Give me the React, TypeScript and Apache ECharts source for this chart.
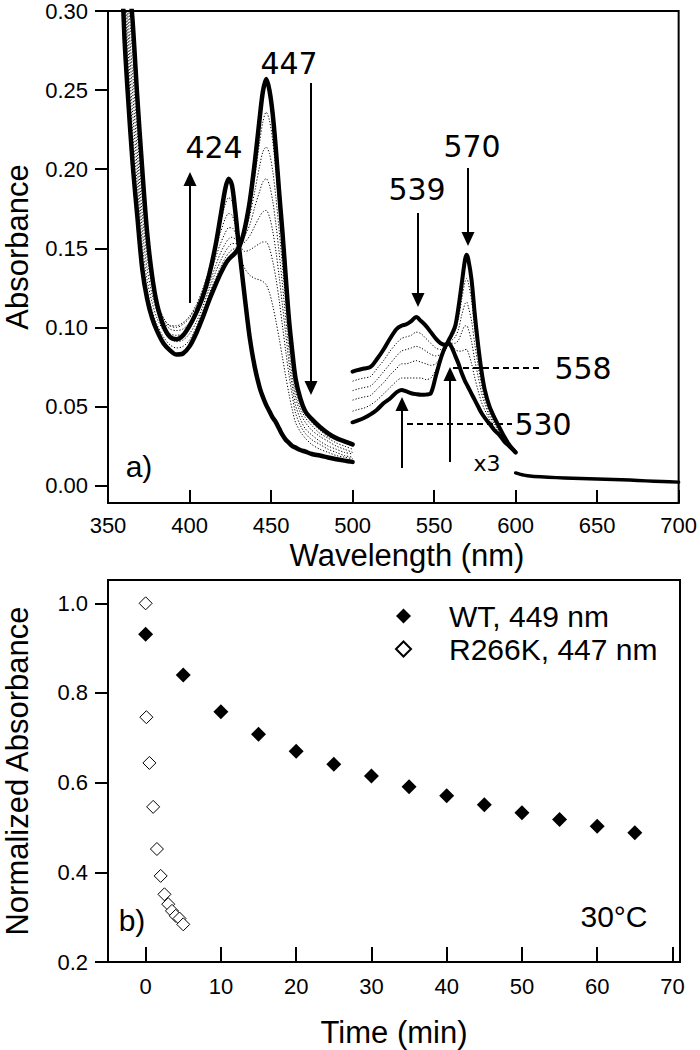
import React, { useEffect, useRef } from "react";
import * as echarts from "echarts";

// ---------- Panel a) : spectra ----------
// 355-500 nm region (Soret)
const wl1 = [356, 358, 360, 362, 365, 368, 371, 374, 377, 380, 384, 388, 392, 396, 400, 404, 408, 412, 416, 419, 422, 424, 426, 428, 430, 432, 434, 437, 440, 443, 445, 447, 449, 451, 453, 455, 457, 459, 461, 463, 465, 468, 471, 475, 480, 485, 490, 495, 500];
const initial1 = [0.40, 0.34, 0.285, 0.25, 0.205, 0.17, 0.137, 0.118, 0.106, 0.098, 0.090, 0.0855, 0.0828, 0.0835, 0.088, 0.096, 0.106, 0.117, 0.127, 0.134, 0.140, 0.143, 0.145, 0.147, 0.150, 0.155, 0.163, 0.180, 0.204, 0.232, 0.249, 0.257, 0.250, 0.235, 0.212, 0.185, 0.160, 0.132, 0.105, 0.085, 0.068, 0.055, 0.047, 0.042, 0.037, 0.033, 0.030, 0.028, 0.026];
const mid1a = [0.41, 0.35, 0.295, 0.26, 0.215, 0.18, 0.145, 0.124, 0.111, 0.102, 0.094, 0.089, 0.087, 0.088, 0.092, 0.100, 0.110, 0.121, 0.131, 0.138, 0.144, 0.147, 0.149, 0.150, 0.152, 0.156, 0.162, 0.176, 0.195, 0.217, 0.230, 0.236, 0.231, 0.218, 0.198, 0.174, 0.150, 0.124, 0.099, 0.080, 0.064, 0.052, 0.045, 0.040, 0.035, 0.031, 0.029, 0.027, 0.025];
const mid1b = [0.42, 0.36, 0.305, 0.27, 0.225, 0.19, 0.153, 0.130, 0.116, 0.106, 0.098, 0.093, 0.091, 0.092, 0.096, 0.103, 0.113, 0.124, 0.135, 0.142, 0.148, 0.151, 0.153, 0.153, 0.153, 0.156, 0.160, 0.171, 0.186, 0.202, 0.211, 0.214, 0.210, 0.199, 0.182, 0.161, 0.139, 0.116, 0.093, 0.075, 0.060, 0.049, 0.043, 0.038, 0.033, 0.030, 0.027, 0.025, 0.023];
const mid1c = [0.43, 0.37, 0.315, 0.28, 0.237, 0.20, 0.162, 0.137, 0.121, 0.110, 0.101, 0.096, 0.095, 0.096, 0.100, 0.107, 0.116, 0.127, 0.139, 0.147, 0.153, 0.156, 0.157, 0.156, 0.154, 0.155, 0.158, 0.165, 0.176, 0.186, 0.192, 0.194, 0.190, 0.180, 0.165, 0.147, 0.127, 0.106, 0.086, 0.069, 0.056, 0.046, 0.040, 0.035, 0.031, 0.028, 0.025, 0.023, 0.021];
const mid1d = [0.44, 0.38, 0.327, 0.29, 0.25, 0.21, 0.172, 0.144, 0.126, 0.114, 0.104, 0.099, 0.098, 0.099, 0.103, 0.110, 0.119, 0.131, 0.144, 0.153, 0.160, 0.163, 0.163, 0.160, 0.155, 0.153, 0.154, 0.158, 0.164, 0.170, 0.173, 0.174, 0.170, 0.161, 0.148, 0.132, 0.114, 0.096, 0.078, 0.063, 0.051, 0.042, 0.036, 0.032, 0.028, 0.025, 0.023, 0.021, 0.020];
const mid1e = [0.45, 0.39, 0.34, 0.30, 0.262, 0.222, 0.182, 0.150, 0.129, 0.116, 0.106, 0.101, 0.100, 0.102, 0.106, 0.113, 0.122, 0.135, 0.150, 0.160, 0.169, 0.172, 0.171, 0.165, 0.156, 0.150, 0.148, 0.149, 0.151, 0.153, 0.154, 0.154, 0.150, 0.142, 0.131, 0.117, 0.101, 0.085, 0.070, 0.057, 0.046, 0.038, 0.033, 0.029, 0.026, 0.023, 0.021, 0.019, 0.018];
const mid1f = [0.46, 0.40, 0.352, 0.31, 0.275, 0.233, 0.19, 0.155, 0.131, 0.117, 0.106, 0.101, 0.101, 0.103, 0.107, 0.114, 0.124, 0.137, 0.153, 0.166, 0.178, 0.182, 0.180, 0.170, 0.155, 0.143, 0.137, 0.133, 0.131, 0.130, 0.129, 0.127, 0.122, 0.114, 0.104, 0.093, 0.081, 0.069, 0.058, 0.048, 0.040, 0.034, 0.030, 0.026, 0.023, 0.021, 0.019, 0.018, 0.017];
const final1 = [0.48, 0.42, 0.37, 0.33, 0.295, 0.245, 0.20, 0.16, 0.133, 0.115, 0.101, 0.094, 0.0925, 0.095, 0.101, 0.109, 0.119, 0.133, 0.152, 0.170, 0.188, 0.194, 0.190, 0.174, 0.154, 0.136, 0.118, 0.093, 0.075, 0.062, 0.056, 0.051, 0.047, 0.043, 0.040, 0.036, 0.032, 0.029, 0.027, 0.025, 0.024, 0.0225, 0.0215, 0.020, 0.019, 0.0178, 0.0167, 0.0158, 0.015];

// 500-600 nm region (shown x3)
const wl2 = [500, 503, 507, 511, 515, 519, 523, 527, 530, 533, 536, 539, 542, 545, 548, 551, 554, 557, 559, 561, 563, 565, 567, 569, 570, 571, 573, 575, 577, 579, 581, 584, 587, 590, 593, 596, 600];
const initial2 = [0.072, 0.073, 0.074, 0.075, 0.080, 0.086, 0.093, 0.099, 0.101, 0.102, 0.104, 0.1065, 0.104, 0.101, 0.097, 0.093, 0.090, 0.089, 0.092, 0.096, 0.101, 0.113, 0.128, 0.143, 0.146, 0.143, 0.130, 0.108, 0.089, 0.073, 0.061, 0.050, 0.043, 0.037, 0.031, 0.026, 0.021];
const mid2a = [0.066, 0.067, 0.068, 0.069, 0.074, 0.079, 0.085, 0.090, 0.093, 0.094, 0.095, 0.097, 0.096, 0.093, 0.090, 0.087, 0.086, 0.088, 0.091, 0.094, 0.098, 0.106, 0.118, 0.129, 0.131, 0.128, 0.117, 0.098, 0.082, 0.068, 0.058, 0.048, 0.041, 0.036, 0.030, 0.026, 0.021];
const mid2b = [0.060, 0.061, 0.062, 0.063, 0.067, 0.072, 0.077, 0.082, 0.085, 0.086, 0.087, 0.088, 0.087, 0.085, 0.083, 0.082, 0.083, 0.087, 0.090, 0.092, 0.094, 0.099, 0.108, 0.115, 0.116, 0.113, 0.104, 0.089, 0.076, 0.064, 0.055, 0.046, 0.040, 0.035, 0.030, 0.025, 0.021];
const mid2c = [0.054, 0.055, 0.056, 0.057, 0.061, 0.065, 0.070, 0.074, 0.077, 0.077, 0.078, 0.079, 0.078, 0.077, 0.076, 0.077, 0.081, 0.086, 0.090, 0.090, 0.090, 0.092, 0.097, 0.101, 0.101, 0.099, 0.091, 0.079, 0.069, 0.059, 0.052, 0.044, 0.039, 0.034, 0.029, 0.025, 0.021];
const mid2d = [0.047, 0.048, 0.049, 0.051, 0.054, 0.058, 0.062, 0.066, 0.068, 0.068, 0.068, 0.068, 0.068, 0.067, 0.068, 0.073, 0.080, 0.086, 0.089, 0.088, 0.086, 0.085, 0.085, 0.086, 0.086, 0.084, 0.077, 0.068, 0.060, 0.053, 0.048, 0.042, 0.037, 0.033, 0.029, 0.025, 0.021];
const final2 = [0.040, 0.041, 0.0427, 0.045, 0.048, 0.052, 0.055, 0.059, 0.0605, 0.0595, 0.0584, 0.0578, 0.0574, 0.0575, 0.0584, 0.069, 0.080, 0.088, 0.090, 0.087, 0.082, 0.077, 0.071, 0.066, 0.064, 0.062, 0.058, 0.054, 0.050, 0.046, 0.043, 0.039, 0.035, 0.032, 0.028, 0.025, 0.021];

// 600-700 nm region
const wl3 = [600, 605, 610, 620, 630, 640, 650, 660, 670, 680, 690, 700];
const trace3 = [0.008, 0.0066, 0.0059, 0.0053, 0.0048, 0.0045, 0.0042, 0.0039, 0.0035, 0.0030, 0.0026, 0.0022];

const yTicksA = [0, 0.05, 0.1, 0.15, 0.2, 0.25, 0.3];

// ---------- Panel b) : kinetics ----------
const timeWT = [0, 5, 10, 15, 20, 25, 30, 35, 40, 45, 50, 55, 60, 65];
const absWT = [0.931, 0.840, 0.758, 0.708, 0.670, 0.641, 0.615, 0.591, 0.571, 0.551, 0.533, 0.518, 0.503, 0.488];
const timeR266K = [0, 0.1, 0.5, 1.0, 1.5, 2.0, 2.5, 3.0, 3.5, 4.0, 4.5, 5.0];
const absR266K = [1.0, 0.746, 0.644, 0.546, 0.452, 0.392, 0.351, 0.329, 0.314, 0.303, 0.297, 0.284];
const xTicksB = [0, 10, 20, 30, 40, 50, 60, 70];
const yTicksB = [0.2, 0.4, 0.6, 0.8, 1.0];

const SANS = "'Liberation Sans', Arial, Helvetica, sans-serif";
const DEJA = "'DejaVu Sans', Verdana, sans-serif";

function pairs(xs: number[], ys: number[]) {
  return xs.map((x, i) => [x, ys[i]]);
}

function lineSeries(name: string, xs: number[], ys: number[], bold: boolean, width = 4.5) {
  return {
    name,
    type: "line",
    xAxisIndex: 0,
    yAxisIndex: 0,
    data: pairs(xs, ys),
    showSymbol: false,
    symbol: "none",
    smooth: 0.3,
    clip: true,
    z: bold ? 4 : 2,
    lineStyle: bold
      ? { color: "#000", width, type: "solid", join: "round", cap: "round" }
      : { color: "#000", width: 1, type: [1.2, 1.8] },
    silent: true,
  };
}

function arrow(x: number, y0: number, y1: number) {
  const dir = y1 > y0 ? 1 : -1;
  const headLen = 14;
  const headHalf = 6.5;
  return [
    {
      type: "line",
      shape: { x1: x, y1: y0, x2: x, y2: y1 - dir * (headLen - 2) },
      style: { stroke: "#000", lineWidth: 2 },
      z: 10,
    },
    {
      type: "polygon",
      shape: {
        points: [
          [x, y1],
          [x - headHalf, y1 - dir * headLen],
          [x + headHalf, y1 - dir * headLen],
        ],
      },
      style: { fill: "#000" },
      z: 10,
    },
  ];
}

function dashed(x1: number, x2: number, y: number) {
  return {
    type: "line",
    shape: { x1, y1: y, x2, y2: y },
    style: { stroke: "#000", lineWidth: 2, lineDash: [6, 4] },
    z: 10,
  };
}

function label(text: string, x: number, y: number, size: number, font = DEJA, rotation = 0) {
  return {
    type: "text",
    x,
    y,
    rotation,
    z: 11,
    style: {
      text,
      fill: "#000",
      font: `${size}px ${font}`,
      align: "center",
      verticalAlign: "middle",
    },
  };
}

export default function App() {
  const ref = useRef<HTMLDivElement>(null);

  useEffect(() => {
    if (!ref.current) return;
    const chart = echarts.init(ref.current, null, { renderer: "svg" });

    const axisLine = { show: true, onZero: false, lineStyle: { color: "#000", width: 2 } };
    const axisLabelBase = { color: "#000", fontSize: 22, fontFamily: SANS };

    const option: any = {
      animation: false,
      backgroundColor: "#fff",
      textStyle: { fontFamily: SANS },
      grid: [
        { left: 108, top: 10, width: 572, height: 493, show: true, borderColor: "#000", borderWidth: 2, backgroundColor: "transparent" },
        { left: 108, top: 580, width: 572, height: 382, show: true, borderColor: "#000", borderWidth: 2, backgroundColor: "transparent" },
      ],
      xAxis: [
        {
          gridIndex: 0,
          type: "value",
          min: 350,
          max: 700,
          interval: 50,
          axisLine,
          axisTick: { inside: true, length: 13, lineStyle: { color: "#000", width: 2 } },
          axisLabel: { ...axisLabelBase, margin: 11 },
          splitLine: { show: false },
        },
        {
          gridIndex: 1,
          type: "value",
          min: -5,
          max: 71,
          axisLine,
          axisTick: { inside: true, length: 15, customValues: xTicksB, lineStyle: { color: "#000", width: 2 } },
          axisLabel: { ...axisLabelBase, margin: 13, customValues: xTicksB },
          splitLine: { show: false },
        },
      ],
      yAxis: [
        {
          gridIndex: 0,
          type: "value",
          min: -0.011,
          max: 0.3,
          axisLine,
          axisTick: { inside: false, length: 13, customValues: yTicksA, lineStyle: { color: "#000", width: 2 } },
          axisLabel: { ...axisLabelBase, margin: 20, customValues: yTicksA, formatter: (v: number) => v.toFixed(2) },
          splitLine: { show: false },
        },
        {
          gridIndex: 1,
          type: "value",
          min: 0.2,
          max: 1.052,
          axisLine,
          axisTick: { inside: false, length: 13, customValues: yTicksB, lineStyle: { color: "#000", width: 2 } },
          axisLabel: { ...axisLabelBase, margin: 20, customValues: yTicksB, formatter: (v: number) => v.toFixed(1) },
          splitLine: { show: false },
        },
      ],
      legend: {
        data: ["WT, 449 nm", "R266K, 447 nm"],
        orient: "vertical",
        left: 390,
        top: 596,
        itemWidth: 15,
        itemHeight: 15,
        itemGap: 3,
        textStyle: { color: "#000", fontSize: 30, fontFamily: SANS, padding: [0, 0, 0, 33] },
      },
      series: [
        lineSeries("mid1a", wl1, mid1a, false),
        lineSeries("mid1b", wl1, mid1b, false),
        lineSeries("mid1c", wl1, mid1c, false),
        lineSeries("mid1d", wl1, mid1d, false),
        lineSeries("mid1e", wl1, mid1e, false),
        lineSeries("mid1f", wl1, mid1f, false),
        lineSeries("initial1", wl1, initial1, true),
        lineSeries("final1", wl1, final1, true),
        lineSeries("mid2a", wl2, mid2a, false),
        lineSeries("mid2b", wl2, mid2b, false),
        lineSeries("mid2c", wl2, mid2c, false),
        lineSeries("mid2d", wl2, mid2d, false),
        lineSeries("initial2", wl2, initial2, true, 4),
        lineSeries("final2", wl2, final2, true, 4),
        lineSeries("trace3", wl3, trace3, true, 3.4),
        {
          name: "WT, 449 nm",
          type: "scatter",
          xAxisIndex: 1,
          yAxisIndex: 1,
          data: pairs(timeWT, absWT),
          symbol: "diamond",
          symbolSize: 15,
          itemStyle: { color: "#000", opacity: 1 },
          z: 5,
        },
        {
          name: "R266K, 447 nm",
          type: "scatter",
          xAxisIndex: 1,
          yAxisIndex: 1,
          data: pairs(timeR266K, absR266K),
          symbol: "diamond",
          symbolSize: 13,
          itemStyle: { color: "#fff", borderColor: "#000", borderWidth: 1, opacity: 1 },
          z: 5,
        },
      ],
      graphic: [
        // axis titles
        label("Absorbance", 17, 247, 31, SANS, Math.PI / 2),
        label("Wavelength (nm)", 407, 555, 31, SANS),
        label("Normalized Absorbance", 17, 771, 31, SANS, Math.PI / 2),
        label("Time (min)", 394, 1032, 31, SANS),
        // panel a annotations
        label("424", 214, 147, 30),
        label("447", 289, 63, 30),
        label("539", 417, 189, 30),
        label("570", 472, 146, 30),
        label("558", 583, 368, 30),
        label("530", 543, 424, 30),
        label("x3", 487, 463, 22),
        label("a)", 139, 466, 30, SANS),
        ...arrow(190, 303, 172),
        ...arrow(311, 83, 395),
        ...arrow(418, 213, 307),
        ...arrow(468, 168, 246),
        ...arrow(402, 468, 397),
        ...arrow(450, 462, 367),
        dashed(453, 543, 368),
        dashed(407, 512, 424),
        // panel b annotations
        label("b)", 132, 920, 30, SANS),
        label("30°C", 614, 916, 30, SANS),
      ],
    };

    chart.setOption(option);
    return () => chart.dispose();
  }, []);

  return (
    <div
      ref={ref}
      style={{ position: "absolute", left: 0, top: 0, width: 700, height: 1050, background: "#fff" }}
    />
  );
}
